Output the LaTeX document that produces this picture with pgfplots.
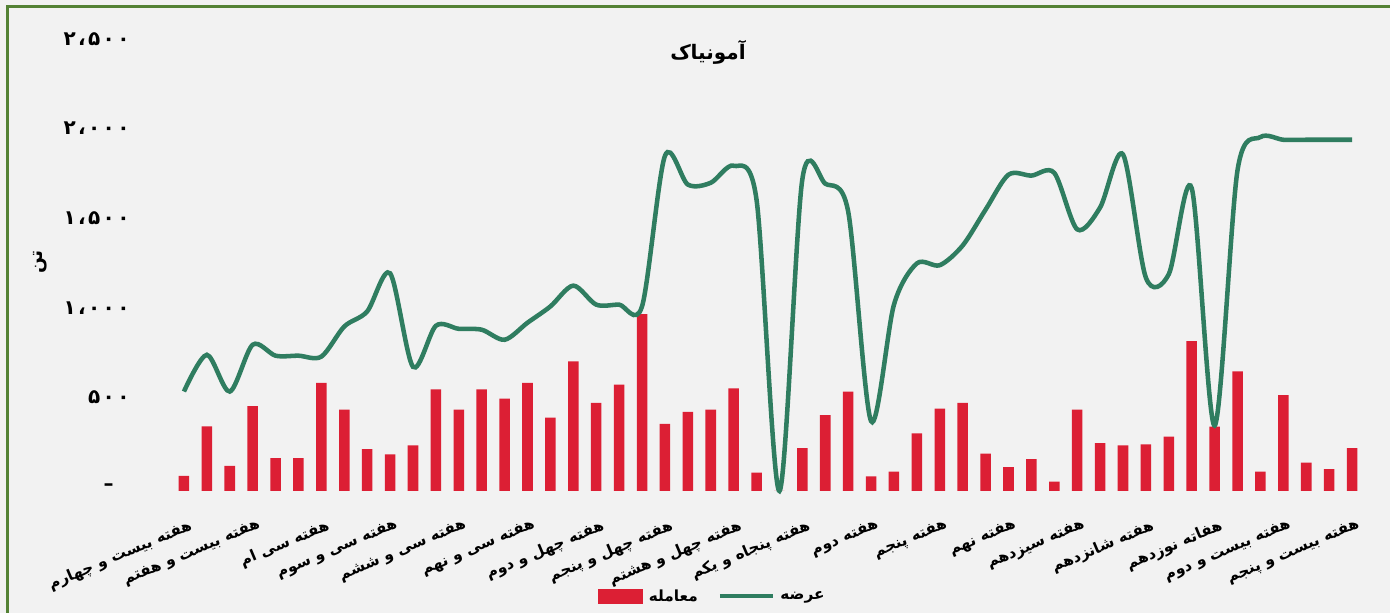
\documentclass[border=0pt]{standalone}
\usepackage{pgfplots}
\usepackage{pgfplotstable}
\pgfplotsset{compat=1.18}
\usepackage{fontspec}
\TeXXeTstate=1
\newfontfamily\fa[Script=Arabic]{DejaVu Sans}
\newfontfamily\fanum[Script=Arabic,LetterSpace=12]{DejaVu Sans}
\definecolor{barred}{RGB}{220,31,52}
\definecolor{linegreen}{RGB}{47,125,96}
\definecolor{bordc}{RGB}{84,130,53}
\definecolor{bgc}{RGB}{242,242,242}

\pgfplotstableread{
x bar line
0 84 555
1 361 760
2 140 555
3 473 816
4 183 755
5 183 755
6 604 750
7 454 918
8 234 1002
9 204 1215
10 254 693
11 567 922
12 454 905
13 567 900
14 516 844
15 604 939
16 410 1030
17 724 1146
18 492 1040
19 593 1040
20 987 1030
21 374 1870
22 441 1710
23 454 1720
24 572 1815
25 103 1625
26 0 0
27 239 1740
28 423 1715
29 554 1560
30 82 390
31 108 1040
32 322 1270
33 460 1260
34 492 1370
35 209 1570
36 133 1765
37 178 1760
38 52 1775
39 454 1460
40 267 1582
41 254 1878
42 260 1190
43 303 1210
44 836 1690
45 359 365
46 668 1790
47 108 1975
48 535 1960
49 159 1960
50 122 1960
51 239 1960
}\data

\begin{document}
\begin{tikzpicture}[x=1pt,y=1pt]
\fill[bgc] (0,0) rectangle (1042.5,459.75);
\draw[bordc, line width=2.25pt] (5.25,0) -- (5.25,454.5) -- (1042.5,454.5);
\begin{axis}[
  at={(129.375pt,91.5pt)}, anchor=south west,
  scale only axis, width=893.25pt, height=336pt,
  xmin=-0.5, xmax=51.5, ymin=0, ymax=2500,
  clip=false,
  axis line style={draw=none},
  major tick length=0pt,
  xtick={0,3,...,51},
  xticklabels={\beginR هفته بیست و چهارم\endR, \beginR هفته بیست و هفتم\endR, \beginR هفته سی ام\endR, \beginR هفته سی و سوم\endR, \beginR هفته سی و ششم\endR, \beginR هفته سی و نهم\endR, \beginR هفته چهل و دوم\endR, \beginR هفته چهل و پنجم\endR, \beginR هفته چهل و هشتم\endR, \beginR هفته پنجاه و یکم\endR, \beginR هفته دوم\endR, \beginR هفته پنجم\endR, \beginR هفته نهم\endR, \beginR هفته سیزدهم\endR, \beginR هفته شانزدهم\endR, \beginR هفاته نوزدهم\endR, \beginR هفته بیست و دوم\endR, \beginR هفته بیست و پنجم\endR},
  xticklabel style={rotate=23, anchor=north east, inner sep=0pt, yshift=-20pt, xshift=-5pt, font=\fa\bfseries\fontsize{11.5}{13}\selectfont},
  ytick={0,500,1000,1500,2000,2500},
  yticklabels={–\kern12pt, \beginR ۵۰۰\endR, \beginR ۱،۰۰۰\endR, \beginR ۱،۵۰۰\endR, \beginR ۲،۰۰۰\endR, \beginR ۲،۵۰۰\endR},
  yticklabel style={anchor=east, inner sep=0pt, xshift=-32pt, yshift=3pt, font=\fanum\bfseries\fontsize{15}{17}\selectfont},
  title={\beginR آمونیاک\endR},
  title style={at={(0.4496,0.962)}, anchor=center, font=\fa\bfseries\fontsize{15}{18}\selectfont},
  ylabel={\beginR تن\endR},
  ylabel style={at={(-0.111,0.511)}, anchor=center, font=\fa\bfseries\fontsize{14}{16}\selectfont},
  legend columns=2,
  legend style={draw=none, fill=none, at={(0.453,-0.235)}, anchor=center,
    font=\fa\bfseries\fontsize{11.5}{13}\selectfont,
    nodes={inner sep=1pt},
    /tikz/every odd column/.append style={column sep=3pt},
    /tikz/every even column/.append style={column sep=14pt}},
]
\addplot[ybar, bar width=0.46, fill=barred, draw=none,
  legend image code/.code={\fill[barred] (0pt,-5.5pt) rectangle (34pt,5.5pt);}]
  table[x=x,y=bar]{\data};
\addlegendentry{\beginR معامله\endR}
\addplot[linegreen, line width=3.4pt, smooth, tension=0.5,
  legend image code/.code={\draw[linegreen, line width=3pt] (0pt,0pt) -- (40pt,0pt);}]
  table[x=x,y=line]{\data};
\addlegendentry{\beginR عرضه\endR}
\end{axis}
\pgfresetboundingbox
\useasboundingbox (0,0) rectangle (1042.5,459.75);
\end{tikzpicture}
\end{document}
